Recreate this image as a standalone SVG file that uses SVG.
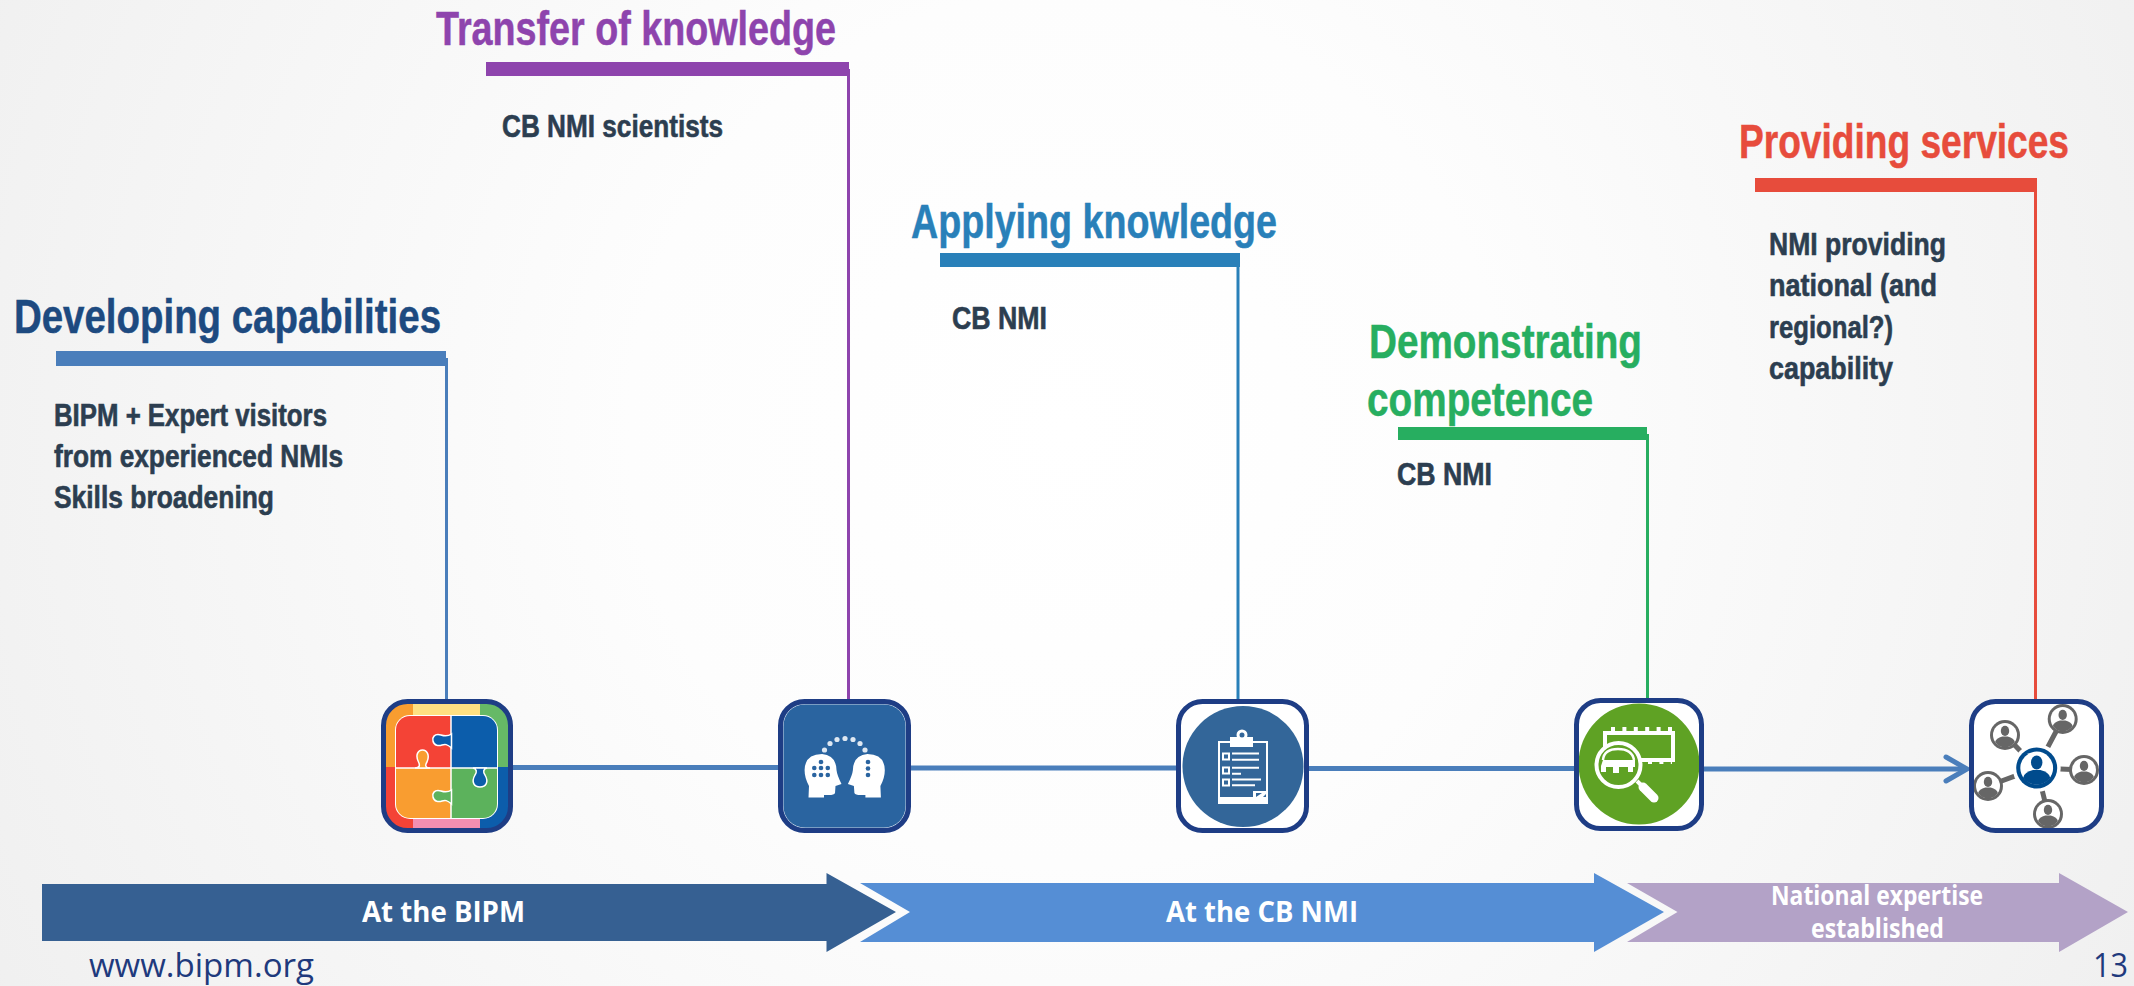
<svg xmlns="http://www.w3.org/2000/svg" xmlns:xlink="http://www.w3.org/1999/xlink" width="2134" height="986" viewBox="0 0 2134 986">
<style>
.title{font-family:"Liberation Sans Narrow","Liberation Sans",Arial,sans-serif;font-weight:700;font-size:48px;stroke-width:.5px}
.body{font-family:"Liberation Sans Narrow","Liberation Sans",Arial,sans-serif;font-weight:700;font-size:31px;fill:#2c3e50;stroke:#2c3e50;stroke-width:.6px}
.lab{font-family:"Open Sans","Liberation Sans",sans-serif;font-weight:700;fill:#fff;font-size:29px}
.lab2{font-size:26px}
.foot{font-family:"Open Sans","Liberation Sans",sans-serif;fill:#1f3a7d;font-size:33px}
.frame{fill:none;stroke:#1e3d85;stroke-width:5}
.wl{stroke:#fff;fill:none}
.tl{stroke:#4a7ebb;stroke-width:5;fill:none}
.seam{stroke:#fff;stroke-width:1.500}
</style>
<defs>
<radialGradient id="bg" gradientUnits="userSpaceOnUse" cx="1067" cy="430" r="1250">
<stop offset="0" stop-color="#ffffff"/><stop offset="0.35" stop-color="#fdfdfd"/><stop offset="1" stop-color="#efefef"/>
</radialGradient>
<marker id="chev" markerUnits="userSpaceOnUse" markerWidth="30" markerHeight="32" viewBox="0 0 30 32" refX="20" refY="16" orient="auto">
<path d="M4 4 L25 16 L4 28" fill="none" stroke="#4a7ebb" stroke-width="5" stroke-linecap="round"/>
</marker>
<clipPath id="c1"><rect x="382" y="700" width="130" height="132" rx="26"/></clipPath>
<clipPath id="c1i"><rect x="396" y="716" width="101" height="102" rx="14"/></clipPath>
<g id="person">
<circle r="1" fill="currentColor"/><circle r="0.8" fill="#fff"/>
<ellipse cy="-0.27" rx="0.28" ry="0.34" fill="currentColor"/>
<path d="M-.66 .47 Q-.6 .2 -.18 .1 L.18 .1 Q.6 .2 .66 .47 A.8 .8 0 0 1 -.66 .47Z" fill="currentColor"/>
</g>
<g id="head">
<path d="M841.500 784 L835.500 786 L835 793 Q834 795 829 795 L824 795 L824 797.500 L808.500 797.500 L809 786 Q804.500 778 804.600 770 Q805 754 822 754 Q836 755 836.500 770 Q837 775 841.500 784Z" fill="#fff"/>
</g>
</defs>
<rect id="background" width="2134" height="986" fill="url(#bg)"/>

<g id="connectors">
<line class="tl" x1="513" y1="767.500" x2="778" y2="767.500"/>
<line class="tl" x1="911" y1="768" x2="1176" y2="768"/>
<line class="tl" x1="1309" y1="768.500" x2="1574" y2="768.500"/>
<line class="tl" x1="1704" y1="769" x2="1962" y2="769" marker-end="url(#chev)"/>
<line x1="446.500" y1="358" x2="446.500" y2="700" stroke="#4a7ebb" stroke-width="3"/>
<line x1="848.500" y1="69" x2="848.500" y2="700" stroke="#8e44ad" stroke-width="3"/>
<line x1="1238" y1="260" x2="1238" y2="700" stroke="#2980b9" stroke-width="3"/>
<line x1="1647.500" y1="434" x2="1647.500" y2="699" stroke="#27ae60" stroke-width="3"/>
<line x1="2035.500" y1="185" x2="2035.500" y2="700" stroke="#e74c3c" stroke-width="3"/>
</g>

<g id="developing-capabilities">
<text class="title" x="14" y="333" fill="#1d4a80" stroke="#1d4a80" textLength="427" lengthAdjust="spacingAndGlyphs">Developing capabilities</text>
<rect x="56" y="351" width="390" height="15" fill="#4a7ebb"/>
<text class="body" x="54" y="426" textLength="273" lengthAdjust="spacingAndGlyphs">BIPM + Expert visitors</text>
<text class="body" x="54" y="467" textLength="289" lengthAdjust="spacingAndGlyphs">from experienced NMIs</text>
<text class="body" x="54" y="508" textLength="220" lengthAdjust="spacingAndGlyphs">Skills broadening</text>
</g>
<g id="transfer-of-knowledge">
<text class="title" x="436" y="45" fill="#8e44ad" stroke="#8e44ad" textLength="400" lengthAdjust="spacingAndGlyphs">Transfer of knowledge</text>
<rect x="486" y="62" width="363" height="14" fill="#8e44ad"/>
<text class="body" x="502" y="137" textLength="221" lengthAdjust="spacingAndGlyphs">CB NMI scientists</text>
</g>
<g id="applying-knowledge">
<text class="title" x="911" y="238" fill="#2980b9" stroke="#2980b9" textLength="366" lengthAdjust="spacingAndGlyphs">Applying knowledge</text>
<rect x="940" y="253" width="300" height="14" fill="#2980b9"/>
<text class="body" x="952" y="329" textLength="95" lengthAdjust="spacingAndGlyphs">CB NMI</text>
</g>
<g id="demonstrating-competence">
<text class="title" x="1369" y="358" fill="#27ae60" stroke="#27ae60" textLength="273" lengthAdjust="spacingAndGlyphs">Demonstrating</text>
<text class="title" x="1367" y="416" fill="#27ae60" stroke="#27ae60" textLength="226" lengthAdjust="spacingAndGlyphs">competence</text>
<rect x="1398" y="427" width="249" height="13" fill="#27ae60"/>
<text class="body" x="1397" y="485" textLength="95" lengthAdjust="spacingAndGlyphs">CB NMI</text>
</g>
<g id="providing-services">
<text class="title" x="1739" y="158" fill="#e74c3c" stroke="#e74c3c" textLength="330" lengthAdjust="spacingAndGlyphs">Providing services</text>
<rect x="1755" y="178" width="282" height="14" fill="#e74c3c"/>
<text class="body" x="1769" y="255" textLength="177" lengthAdjust="spacingAndGlyphs">NMI providing</text>
<text class="body" x="1769" y="296" textLength="168" lengthAdjust="spacingAndGlyphs">national (and</text>
<text class="body" x="1769" y="338" textLength="124" lengthAdjust="spacingAndGlyphs">regional?)</text>
<text class="body" x="1769" y="379" textLength="124" lengthAdjust="spacingAndGlyphs">capability</text>
</g>

<g id="icon-puzzle">
<g clip-path="url(#c1)">
<rect x="381" y="699" width="33" height="69" fill="#f99d30"/>
<rect x="381" y="767" width="33" height="67" fill="#f44336"/>
<rect x="413" y="699" width="67" height="20" fill="#ffe082"/>
<rect x="413" y="814" width="67" height="20" fill="#f48fb1"/>
<rect x="480" y="699" width="34" height="69" fill="#66b966"/>
<rect x="480" y="767" width="34" height="67" fill="#0c5dab"/>
</g>
<rect x="395" y="715" width="103" height="104" rx="15" fill="#fff"/>
<g clip-path="url(#c1i)">
<rect x="396" y="716" width="55" height="52" fill="#f44336"/>
<rect x="451" y="716" width="46" height="52" fill="#0c5dab"/>
<rect x="396" y="768" width="55" height="50" fill="#f99d30"/>
<rect x="451" y="768" width="46" height="50" fill="#5cb25c"/>
</g>
<path class="wl" stroke-width="1.500" d="M451 716 V818 M396 768 H497"/>
<path class="seam" d="M451.500 734 C447 737 444 736 441 735 C434 733 432 738 433 741 C434 746 439 746 442 745 C445 744 447 744 451.500 748Z" fill="#0c5dab"/>
<path class="seam" d="M415 768 C420 768 420 765 418.500 762 C415 755 418 750 422.500 750 C427 750 430 755 427 762 C425 765 425 768 430 768Z" fill="#f99d30"/>
<path class="seam" d="M473 768 C477 769 477 772 475 775 C471 782 474 787 480 787 C486 787 489 782 485 775 C483 772 483 769 487 768Z" fill="#0c5dab"/>
<path class="seam" d="M451.500 790 C447 793 444 792 441 791 C434 789 432 794 433 797 C434 802 439 802 442 801 C445 800 447 800 451.500 804Z" fill="#5cb25c"/>
<rect class="frame" x="383.500" y="701.500" width="127" height="129" rx="24"/>
</g>

<g id="icon-transfer">
<rect x="780.500" y="701.500" width="128" height="129" rx="24" fill="#2a64a0"/>
<rect x="783" y="704" width="123" height="124" rx="22" fill="none" stroke="#c9d6e6" stroke-width="1"/>
<use xlink:href="#head"/>
<use xlink:href="#head" transform="translate(1689.400 0) scale(-1 1)"/>
<g fill="#2a64a0">
<circle cx="821" cy="762" r="2.300"/><circle cx="814.300" cy="768" r="2.300"/><circle cx="821" cy="768" r="2.300"/><circle cx="827.800" cy="768" r="2.300"/><circle cx="814.300" cy="775" r="2.300"/><circle cx="821" cy="775" r="2.300"/><circle cx="827.800" cy="775" r="2.300"/>
<circle cx="868" cy="762" r="2.300"/><circle cx="868" cy="768.500" r="2.300"/><circle cx="868" cy="775" r="2.300"/>
</g>
<g fill="#dfe8f2">
<circle cx="824.500" cy="750" r="2.600"/><circle cx="830" cy="743.500" r="2.600"/><circle cx="837" cy="739.500" r="2.600"/><circle cx="845" cy="738.500" r="2.600"/><circle cx="853" cy="739.500" r="2.600"/><circle cx="860" cy="743.500" r="2.600"/><circle cx="865" cy="750" r="2.600"/>
</g>
<rect class="frame" x="780.500" y="701.500" width="128" height="129" rx="24"/>
</g>

<g id="icon-checklist">
<rect x="1178.500" y="701.500" width="128" height="129" rx="24" fill="#fff"/>
<circle cx="1243" cy="766.500" r="60.500" fill="#336699"/>
<rect x="1218" y="741" width="50" height="63" fill="#fff"/>
<rect x="1220" y="743" width="46" height="54" fill="#336699"/>
<rect x="1230" y="737" width="23" height="10" fill="#fff"/>
<circle cx="1242" cy="735" r="4" fill="#336699" stroke="#fff" stroke-width="3"/>
<path d="M1253 798 V791 H1266 V794 L1262 798Z" fill="#fff"/>
<path d="M1256 797 V793 H1262Z" fill="#336699"/>
<path fill="none" stroke="#fff" stroke-width="2" d="M1223 753.500 h6 v6 h-6 z M1223 767.500 h6 v6 h-6 z M1223 779.500 h6 v6 h-6 z M1232 753.500 H1259 M1232 759.700 H1259 M1232 767.700 H1259 M1232 773.700 H1241 M1232 779.500 H1261 M1232 785.300 H1255"/>
<rect class="frame" x="1178.500" y="701.500" width="128" height="129" rx="24"/>
</g>

<g id="icon-inspect">
<rect x="1576.500" y="700.500" width="125" height="128" rx="24" fill="#fff"/>
<circle cx="1639" cy="764" r="60.500" fill="#5fa224"/>
<g fill="none" stroke="#fff">
<rect x="1605" y="733" width="68" height="27" stroke-width="4"/>
<path stroke-width="4" stroke-dasharray="4 7.400" d="M1611 729 H1672 M1648 762 H1672"/>
<circle cx="1618.500" cy="765" r="22" fill="#5fa224" stroke="#fff" stroke-width="4"/>
<path stroke-width="2.500" d="M1603 760 Q1604 749 1618 749 Q1632 749 1634 760"/>
<path d="M1637 781 L1642 786" stroke-width="4"/>
<path d="M1643 787 L1654 798" stroke-width="9" stroke-linecap="round"/>
</g>
<path d="M1603 760 H1635 V767 H1633 V772 H1628 V767 H1619 V773 H1613 V767 H1606 V772 H1601 V766Z" fill="#fff"/>
<rect class="frame" x="1576.500" y="700.500" width="125" height="128" rx="24"/>
</g>

<g id="icon-network">
<rect x="1971.500" y="701.500" width="130" height="129" rx="24" fill="#fff"/>
<path stroke="#666" stroke-width="5" d="M2036.700 768 L2005 735 M2036.700 768 L2062.700 719 M2036.700 768 L2084 770 M2036.700 768 L1988 786 M2036.700 768 L2048 814"/>
<circle cx="2036.700" cy="768" r="24" fill="#fff"/>
<g style="color:#666666">
<use xlink:href="#person" transform="translate(2005 735) scale(15)"/>
<use xlink:href="#person" transform="translate(2062.700 719) scale(15)"/>
<use xlink:href="#person" transform="translate(2084 770) scale(15)"/>
<use xlink:href="#person" transform="translate(1988 786) scale(15)"/>
<use xlink:href="#person" transform="translate(2048 814) scale(15)"/>
</g>
<g style="color:#004b8d"><use xlink:href="#person" transform="translate(2036.700 768) scale(20.500)"/></g>
<rect class="frame" x="1971.500" y="701.500" width="130" height="129" rx="24"/>
</g>

<g id="band-bipm">
<polygon points="42,884 826.500,884 826.500,873 896,912 826.500,952 826.500,941 42,941" fill="#366092"/>
<text class="lab" x="362" y="922" textLength="163" lengthAdjust="spacingAndGlyphs">At the BIPM</text>
</g>
<g id="band-cb-nmi">
<polygon points="860,883 1594,883 1594,873 1664,912 1594,952 1594,942 860,942 910,912" fill="#558ed5"/>
<text class="lab" x="1166" y="922" textLength="192" lengthAdjust="spacingAndGlyphs">At the CB NMI</text>
</g>
<g id="band-national">
<polygon points="1627,883 2059,883 2059,873 2128,912 2059,952 2059,942 1627,942 1677.500,912" fill="#b3a2c7"/>
<text class="lab lab2" x="1771" y="905" textLength="212" lengthAdjust="spacingAndGlyphs">National expertise</text>
<text class="lab lab2" x="1811" y="938" textLength="133" lengthAdjust="spacingAndGlyphs">established</text>
</g>
<text class="foot" x="89" y="977" textLength="225" lengthAdjust="spacingAndGlyphs">www.bipm.org</text>
<text class="foot" x="2093" y="977" textLength="35" lengthAdjust="spacingAndGlyphs">13</text>
</svg>
